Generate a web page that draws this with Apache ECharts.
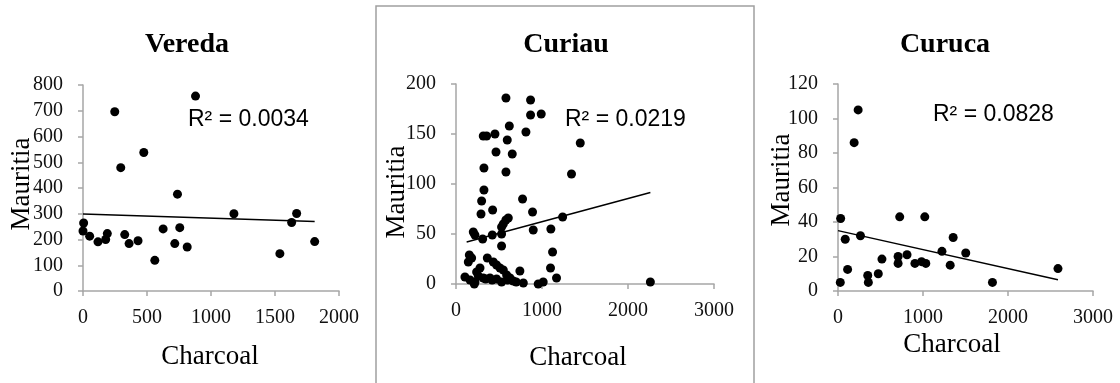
<!DOCTYPE html>
<html>
<head>
<meta charset="utf-8">
<script src="https://cdn.jsdelivr.net/npm/echarts@6/dist/echarts.min.js"></script>
<style>
  html, body { margin: 0; padding: 0; background: #fff; }
  #chart { width: 1120px; height: 383px; }
</style>
</head>
<body>
<div id="chart"></div>
<script>
// panel titles and r2 labels
const panelNames = ['Vereda', 'Curiau', 'Curuca']
const r2Labels = ['R² = 0.0034', 'R² = 0.0219', 'R² = 0.0828']

// axis ranges
const xMax = [2000, 3000, 3000]
const xStep = [500, 1000, 1000]
const yMax = [800, 200, 120]
const yStep = [100, 50, 20]

// [charcoal, mauritia]
const veredaPts = [
  [5, 264], [0, 233], [52, 213], [117, 191], [177, 200], [190, 223], [248, 696],
  [295, 479], [326, 219], [360, 184], [430, 195], [475, 538], [561, 119], [626, 241],
  [717, 184], [738, 376], [756, 246], [814, 171], [879, 757], [1179, 300], [1538, 145],
  [1630, 266], [1669, 301], [1810, 192]
]
const curiauPts = [
  [581, 186], [867, 184], [867, 169], [991, 170], [317, 148], [356, 148], [453, 150],
  [620, 158], [596, 144], [813, 152], [1445, 141], [465, 132], [654, 130], [325, 116],
  [581, 112], [1343, 110], [325, 94], [298, 83], [774, 85], [426, 74], [291, 70],
  [890, 72], [550, 60], [580, 64], [608, 66], [530, 57], [201, 52], [220, 49], [310, 45],
  [422, 49], [530, 50], [898, 54], [1103, 55], [1240, 67], [530, 38], [155, 29], [182, 26],
  [143, 22], [364, 26], [434, 22], [1123, 32], [472, 19], [511, 16], [550, 14], [279, 16],
  [240, 12], [743, 13], [1099, 16], [589, 9], [628, 6], [1169, 6], [104, 7], [163, 4],
  [221, 2], [317, 6], [395, 6], [472, 5], [530, 2], [666, 3], [783, 1], [956, 0],
  [1014, 2], [213, 0], [260, 8], [345, 5], [420, 4], [600, 4], [700, 2], [2260, 2]
]
const curucaPts = [
  [237, 105], [190, 86], [31, 42], [27, 5], [85, 30], [113, 12.5], [264, 32], [350, 9],
  [357, 5], [474, 10], [517, 18.5], [707, 20], [707, 16], [726, 43], [812, 21], [905, 16],
  [983, 17], [1033, 16], [1021, 43], [1223, 23], [1320, 15], [1355, 31], [1503, 22],
  [1817, 5], [2588, 13]
]
// linear trend endpoints
const veredaTrend = [[0, 299.5], [1810, 270]]
const curiauTrend = [[124, 42], [2260, 91.5]]
const curucaTrend = [[0, 35], [2588, 6.5]]

const allPts = [veredaPts, curiauPts, curucaPts]
const allTrend = [veredaTrend, curiauTrend, curucaTrend]

// layout per panel
const grids = [
  { left: 83, top: 85, width: 256, height: 206 },
  { left: 456, top: 84, width: 258, height: 200 },
  { left: 838, top: 84, width: 255, height: 207 }
]
const titlePos = [[187, 45], [566, 45], [945, 45]]
const r2Pos = [[188, 120], [565, 120], [933, 115]]
const yNamePos = [[22, 184], [397, 192], [782, 180]]
const xNamePos = [[210, 357], [578, 358], [952, 345]]

const serif = '"Liberation Serif", "Times New Roman", serif'
const axisGray = '#a6a6a6'

let chart = echarts.init(document.getElementById('chart'))

let xAxes = [], yAxes = [], series = [], graphic = []
for (let i = 0; i < 3; i++) {
  xAxes.push({
    gridIndex: i,
    type: 'value',
    min: 0,
    max: xMax[i],
    interval: xStep[i],
    axisLine: { show: true, onZero: false, lineStyle: { color: axisGray, width: 1.5 } },
    axisTick: { show: true, length: 5, lineStyle: { color: axisGray, width: 1.5 } },
    axisLabel: { color: '#111', fontFamily: serif, fontSize: 20, margin: 17, formatter: (v) => String(v) },
    splitLine: { show: false }
  })
  yAxes.push({
    gridIndex: i,
    type: 'value',
    min: 0,
    max: yMax[i],
    interval: yStep[i],
    axisLine: { show: true, onZero: false, lineStyle: { color: axisGray, width: 1.5 } },
    axisTick: { show: true, length: 5, lineStyle: { color: axisGray, width: 1.5 } },
    axisLabel: { color: '#111', fontFamily: serif, fontSize: 20, margin: 20, formatter: (v) => String(v) },
    splitLine: { show: false }
  })
  series.push({
    type: 'scatter',
    xAxisIndex: i,
    yAxisIndex: i,
    data: allPts[i],
    symbol: 'circle',
    symbolSize: 9,
    itemStyle: { color: '#000', opacity: 1 },
    z: 3
  })
  series.push({
    type: 'line',
    xAxisIndex: i,
    yAxisIndex: i,
    data: allTrend[i],
    showSymbol: false,
    lineStyle: { color: '#000', width: 1.5 },
    z: 2
  })
  graphic.push({
    type: 'text',
    x: titlePos[i][0], y: titlePos[i][1],
    style: { text: panelNames[i], fill: '#000', font: 'bold 28px ' + serif, align: 'center', verticalAlign: 'middle' }
  })
  graphic.push({
    type: 'text',
    x: r2Pos[i][0], y: r2Pos[i][1],
    style: { text: r2Labels[i], fill: '#000', font: '23px "Liberation Sans", Arial, sans-serif', align: 'left', verticalAlign: 'middle' }
  })
  graphic.push({
    type: 'text',
    x: yNamePos[i][0], y: yNamePos[i][1],
    rotation: Math.PI / 2,
    style: { text: 'Mauritia', fill: '#000', font: '27px ' + serif, align: 'center', verticalAlign: 'middle' }
  })
  graphic.push({
    type: 'text',
    x: xNamePos[i][0], y: xNamePos[i][1],
    style: { text: 'Charcoal', fill: '#000', font: '27px ' + serif, align: 'center', verticalAlign: 'middle' }
  })
}

// frame round the middle panel
graphic.push({
  type: 'rect',
  shape: { x: 376, y: 6, width: 378, height: 400 },
  style: { fill: 'none', stroke: '#a0a0a0', lineWidth: 1.5 },
  silent: true
})

chart.setOption({
  animation: false,
  grid: grids,
  xAxis: xAxes,
  yAxis: yAxes,
  series: series,
  graphic: graphic
})
</script>
</body>
</html>
